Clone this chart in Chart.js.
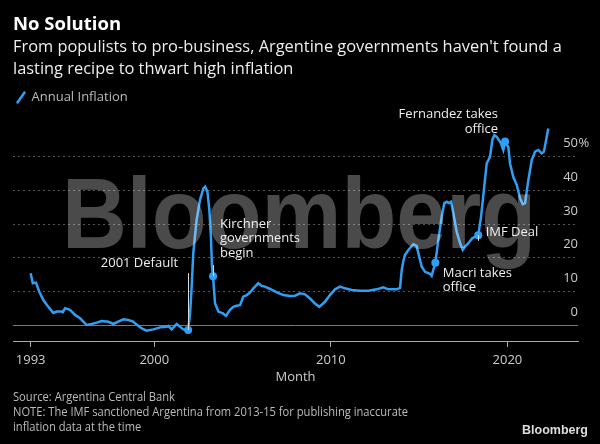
<!DOCTYPE html>
<html>
<head>
<meta charset="utf-8">
<script src="https://cdn.jsdelivr.net/npm/chart.js@4.4.0/dist/chart.umd.min.js"></script>
<style>
  html, body { margin: 0; padding: 0; background: #000; }
  #wrap { position: relative; width: 600px; height: 444px; background: #000; overflow: hidden; font-family: 'Open Sans', sans-serif; }
  #chart { position: absolute; left: 0; top: 0; }
  .txt { position: absolute; white-space: nowrap; }
  #title { left: 13px; top: 10px; font-size: 18.5px; font-weight: bold; color: #fff; }
  #subtitle { left: 13px; top: 35px; font-size: 16.4px; line-height: 22px; color: #eee; }
  #footer { left: 13px; top: 390px; font-size: 12px; line-height: 14.8px; color: #bbb; transform: scaleX(0.93); transform-origin: 0 0; }
  #logo { left: 522px; top: 423px; font-size: 12.5px; font-weight: bold; color: #ddd; font-family: 'Liberation Sans', Arial, sans-serif; }
</style>
</head>
<body>
<div id="wrap">
  <canvas id="chart" width="600" height="444"></canvas>
  <div class="txt" id="title">No Solution</div>
  <div class="txt" id="subtitle">From populists to pro-business, Argentine governments haven't found a<br>lasting recipe to thwart high inflation</div>
  <div class="txt" id="footer">Source: Argentina Central Bank<br>NOTE: The IMF sanctioned Argentina from 2013-15 for publishing inaccurate<br>inflation data at the time</div>
  <div class="txt" id="logo">Bloomberg</div>
</div>
<script>
// annual inflation, % (decimal years)
const years = [
  1993.00, 1993.12, 1993.30, 1993.49, 1993.72, 1993.91, 1994.00, 1994.28, 1994.48, 1994.76,
  1994.82, 1994.95, 1995.23, 1995.51, 1995.80, 1996.17, 1996.46, 1996.74, 1997.02, 1997.40,
  1997.68, 1997.96, 1998.25, 1998.53, 1998.81, 1998.91, 1999.29, 1999.57, 1999.95, 2000.14,
  2000.33, 2000.70, 2000.80, 2000.99, 2001.27, 2001.46, 2001.65, 2001.92, 2002.03, 2002.12,
  2002.21, 2002.40, 2002.59, 2002.78, 2002.88, 2003.01, 2003.12, 2003.21, 2003.27, 2003.33,
  2003.44, 2003.63, 2003.82, 2003.88, 2004.06, 2004.29, 2004.48, 2004.67, 2004.86, 2005.04,
  2005.24, 2005.42, 2005.61, 2005.71, 2005.89, 2006.09, 2006.27, 2006.56, 2006.94, 2007.31,
  2007.69, 2007.97, 2008.26, 2008.54, 2008.82, 2009.10, 2009.35, 2009.67, 2009.95, 2010.24,
  2010.52, 2010.80, 2011.18, 2011.65, 2012.12, 2012.60, 2012.97, 2013.26, 2013.73, 2013.92,
  2014.02, 2014.11, 2014.20, 2014.39, 2014.67, 2014.86, 2014.95, 2015.15, 2015.34, 2015.62,
  2015.71, 2015.92, 2016.09, 2016.28, 2016.43, 2016.56, 2016.69, 2016.81, 2016.94, 2017.13,
  2017.32, 2017.47, 2017.60, 2017.79, 2018.01, 2018.17, 2018.35, 2018.51, 2018.69, 2018.83,
  2019.02, 2019.15, 2019.26, 2019.40, 2019.64, 2019.77, 2019.87, 2019.96, 2020.05, 2020.15,
  2020.34, 2020.53, 2020.72, 2020.87, 2021.00, 2021.19, 2021.38, 2021.57, 2021.75, 2021.94,
  2022.07, 2022.23, 2022.32
];
const inflation = [
  15.4, 12.4, 12.6, 9.9, 7.4, 6.0, 5.4, 3.6, 4.0, 4.0,
  3.8, 5.0, 4.5, 3.0, 2.0, 0.0, 0.3, 0.7, 1.2, 1.0,
  0.3, 1.0, 1.7, 1.5, 1.0, 0.5, -1.0, -1.7, -1.3, -1.0,
  -0.7, -0.5, -0.3, -1.3, 0.3, -0.5, -1.3, -1.5, 3.5, 11.4,
  21.3, 31.2, 37.1, 40.6, 41.1, 39.6, 34.2, 26.2, 17.3, 14.5,
  6.5, 4.0, 3.6, 3.5, 2.7, 4.5, 5.4, 5.7, 5.9, 8.4,
  8.9, 9.6, 10.9, 11.4, 12.4, 11.6, 11.4, 10.7, 9.7, 8.9,
  8.6, 8.7, 9.4, 9.1, 7.9, 6.4, 5.4, 6.9, 8.9, 10.6,
  11.4, 10.9, 10.4, 10.2, 10.2, 10.6, 11.2, 10.6, 10.6, 11.0,
  16.5, 19.0, 20.8, 22.3, 24.0, 23.5, 21.5, 17.3, 15.8, 15.2,
  14.6, 18.5, 25.3, 32.2, 36.2, 36.6, 36.2, 36.6, 33.2, 27.7,
  24.3, 22.3, 23.3, 24.3, 25.8, 26.2, 26.7, 32.2, 41.1, 48.0,
  50.0, 55.0, 56.4, 55.9, 54.0, 52.0, 54.5, 53.5, 53.0, 48.0,
  43.9, 41.6, 37.6, 35.9, 36.2, 43.1, 49.0, 51.5, 52.0, 51.0,
  51.5, 55.9, 58.4
];

// events marked on the line
const eventYears = [2001.92, 2003.33, 2015.92, 2018.35, 2019.87];
const eventValues = [-1.5, 14.5, 18.5, 26.7, 54.5];
const eventLeaderTo = [15.4, 17.8, null, 25.0, null];
const eventLabels = [
  { text: ['2001 Default'], x: 2001.35, y: 18.4, align: 'right' },
  { text: ['Kirchner', 'governments', 'begin'], x: 2003.72, y: 30.0, align: 'left' },
  { text: ['Macri takes', 'office'], x: 2016.34, y: 15.5, align: 'left' },
  { text: ['IMF Deal'], x: 2018.77, y: 27.4, align: 'left' },
  { text: ['Fernandez takes', 'office'], x: 2019.47, y: 62.5, align: 'right' }
];

const xTicks = [1993, 2000, 2010, 2020];
const yTicks = [0, 10, 20, 30, 40, 50];

const lineColor = '#2f9ef5';
const fontFamily = "'Open Sans', sans-serif";

// little slash used as the legend marker
const slash = document.createElement('canvas');
slash.width = 10;
slash.height = 13;
const sctx = slash.getContext('2d');
sctx.strokeStyle = lineColor;
sctx.lineWidth = 2.5;
sctx.lineCap = 'round';
sctx.beginPath();
sctx.moveTo(1.5, 11.5);
sctx.lineTo(8.5, 1.5);
sctx.stroke();

// push the plot down a bit below the legend
const legendGap = {
  id: 'legendGap',
  beforeInit(chart) {
    const fit = chart.legend.fit;
    chart.legend.fit = function () {
      fit.bind(chart.legend)();
      this.height += 6;
    };
  }
};

const overlays = {
  id: 'overlays',
  afterDatasetsDraw(chart) {
    const ctx = chart.ctx;
    const xs = chart.scales.x;
    const ys = chart.scales.y;
    const area = chart.chartArea;

    // Bloomberg watermark
    ctx.save();
    ctx.font = "bold 100px 'Liberation Sans', Arial, sans-serif";
    const w = ctx.measureText('Bloomberg').width;
    ctx.translate(area.left + 49, area.top + 128);
    ctx.scale(474 / w, 1);
    ctx.fillStyle = 'rgba(255,255,255,0.29)';
    ctx.textBaseline = 'alphabetic';
    ctx.fillText('Bloomberg', 0, 0);
    ctx.restore();

    // leader lines
    ctx.save();
    ctx.strokeStyle = '#ddd';
    ctx.lineWidth = 1;
    eventYears.forEach((yr, i) => {
      if (eventLeaderTo[i] === null) return;
      const px = Math.round(xs.getPixelForValue(yr)) + 0.5;
      ctx.beginPath();
      ctx.moveTo(px, ys.getPixelForValue(eventValues[i]));
      ctx.lineTo(px, ys.getPixelForValue(eventLeaderTo[i]));
      ctx.stroke();
    });
    ctx.restore();

    // labels
    ctx.save();
    ctx.font = '13px ' + fontFamily;
    ctx.fillStyle = '#eee';
    ctx.textBaseline = 'middle';
    eventLabels.forEach(l => {
      ctx.textAlign = l.align;
      const px = xs.getPixelForValue(l.x);
      const py = ys.getPixelForValue(l.y);
      l.text.forEach((t, j) => ctx.fillText(t, px, py + j * 14.5));
    });
    ctx.restore();
  },
  afterDraw(chart) {
    // percent sign after the top tick label
    const ctx = chart.ctx;
    const ys = chart.scales.y;
    ctx.save();
    ctx.font = '13px ' + fontFamily;
    ctx.fillStyle = '#ccc';
    ctx.textBaseline = 'middle';
    ctx.textAlign = 'left';
    ctx.fillText('%', ys.left + 0.5, ys.getPixelForValue(50) - 13);
    ctx.restore();
  }
};

new Chart(document.getElementById('chart').getContext('2d'), {
  type: 'line',
  data: {
    datasets: [{
      label: 'Annual Inflation',
      data: years.map((x, i) => ({ x: x, y: inflation[i] })),
      borderColor: lineColor,
      backgroundColor: lineColor,
      borderWidth: 2.5,
      pointRadius: 0,
      tension: 0,
      fill: false
    }, {
      label: 'events',
      data: eventYears.map((x, i) => ({ x: x, y: eventValues[i] })),
      showLine: false,
      pointRadius: 4,
      pointBackgroundColor: lineColor,
      pointBorderWidth: 0
    }]
  },
  options: {
    responsive: false,
    animation: false,
    devicePixelRatio: 1,
    layout: { padding: { top: 87, left: 13, right: 21, bottom: 0 } },
    scales: {
      x: {
        type: 'linear',
        min: 1992,
        max: 2024,
        afterBuildTicks: s => { s.ticks = xTicks.map(v => ({ value: v })); },
        afterFit: s => { s.height = 103; s.paddingLeft = 0; s.paddingRight = 0; },
        grid: { drawOnChartArea: false, drawTicks: true, tickLength: 6, tickColor: '#aaa' },
        border: { display: true, color: '#aaa', width: 1 },
        ticks: {
          color: '#ccc',
          font: { family: fontFamily, size: 13 },
          padding: 5,
          maxRotation: 0,
          autoSkip: false,
          callback: v => String(v)
        },
        title: {
          display: true,
          text: 'Month',
          color: '#ccc',
          font: { family: fontFamily, size: 13 },
          padding: { top: 0, bottom: 59 }
        }
      },
      y: {
        position: 'right',
        min: -4.75,
        max: 60.9,
        afterBuildTicks: s => { s.ticks = yTicks.map(v => ({ value: v })); },
        afterFit: s => { s.width = 1; s.paddingTop = 0; s.paddingBottom = 0; },
        grid: {
          drawTicks: false,
          color: c => (c.tick && c.tick.value === 0) ? '#777' : '#555'
        },
        border: {
          display: false,
          dash: c => (c.tick && c.tick.value === 0) ? [] : [2, 3]
        },
        ticks: {
          color: '#ccc',
          font: { family: fontFamily, size: 13 },
          mirror: true,
          padding: 0,
          labelOffset: -13
        }
      }
    },
    plugins: {
      legend: {
        position: 'top',
        align: 'start',
        labels: {
          usePointStyle: true,
          pointStyle: slash,
          pointStyleWidth: 8,
          padding: 4,
          color: '#bbb',
          font: { family: fontFamily, size: 13 },
          filter: item => item.datasetIndex === 0
        }
      },
      tooltip: { enabled: false }
    }
  },
  plugins: [legendGap, overlays]
});
</script>
</body>
</html>
